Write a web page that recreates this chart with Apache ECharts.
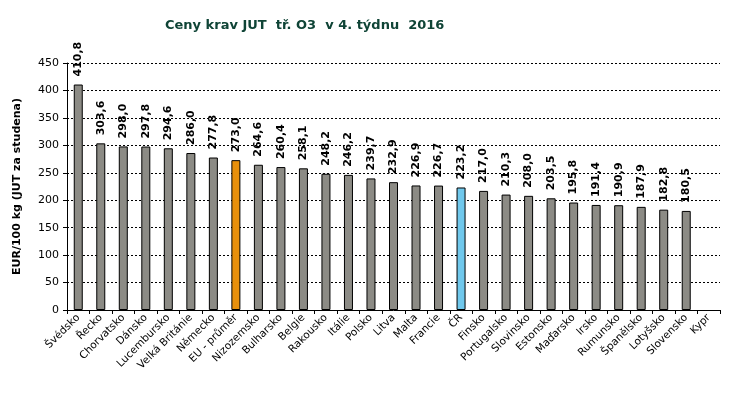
<!DOCTYPE html>
<html><head><meta charset="utf-8">
<script src="https://cdn.jsdelivr.net/npm/echarts@6/dist/echarts.min.js"></script>
<style>html,body{margin:0;padding:0;background:#fff}#c{width:734px;height:400px}</style>
</head><body><div id="c"></div>
<script>
const categories = ["Švédsko","Řecko","Chorvatsko","Dánsko","Lucembursko","Velká Británie","Německo","EU - průměr","Nizozemsko","Bulharsko","Belgie","Rakousko","Itálie","Polsko","Litva","Malta","Francie","ČR","Finsko","Portugalsko","Slovinsko","Estonsko","Maďarsko","Irsko","Rumunsko","Španělsko","Lotyšsko","Slovensko","Kypr"];
const values = [410.8,303.6,298.0,297.8,294.6,286.0,277.8,273.0,264.6,260.4,258.1,248.2,246.2,239.7,232.9,226.9,226.7,223.2,217.0,210.3,208.0,203.5,195.8,191.4,190.9,187.9,182.8,180.5,null];
const highlight = {"EU - průměr":"#e8900c","ČR":"#70c8ec"};
const F = "DejaVu Sans, Verdana, sans-serif";
const chart = echarts.init(document.getElementById('c'));
chart.setOption({
  animation:false,
  title:{text:"Ceny krav JUT  tř. O3  v 4. týdnu  2016",left:160,top:14,
    textStyle:{fontFamily:F,fontSize:13,fontWeight:'bold',color:'#0f4436'}},
  grid:{left:67,right:14,top:63,bottom:90},
  xAxis:{type:'category',data:categories,
    axisLine:{lineStyle:{color:'#000',width:1}},
    axisTick:{show:true,alignWithLabel:false,length:4,lineStyle:{color:'#000'}},
    axisLabel:{interval:0,rotate:45,fontFamily:F,fontSize:10.5,color:'#000',margin:6}},
  yAxis:{type:'value',min:0,max:450,interval:50,
    name:"EUR/100 kg (JUT za studena)",nameLocation:'middle',nameGap:44,
    nameTextStyle:{fontFamily:F,fontSize:11,fontWeight:'bold',color:'#000'},
    axisLine:{show:true,lineStyle:{color:'#000'}},
    axisTick:{show:true,length:4,lineStyle:{color:'#000'}},
    axisLabel:{fontFamily:F,fontSize:11,color:'#000',margin:8},
    splitLine:{lineStyle:{color:'#000',type:[2,2],width:1}}},
  series:[{type:'bar',barWidth:9,
    data:values.map((v,i)=>({value:v,itemStyle:{color:highlight[categories[i]]||'#8c8b85',borderColor:'#000',borderWidth:1}})),
    label:{show:true,position:'top',rotate:90,align:'left',verticalAlign:'middle',distance:8,
      fontFamily:F,fontSize:11,fontWeight:'bold',color:'#000',
      formatter:p=>p.value==null?'':p.value.toFixed(1).replace('.',',')}}]
});
</script></body></html>
